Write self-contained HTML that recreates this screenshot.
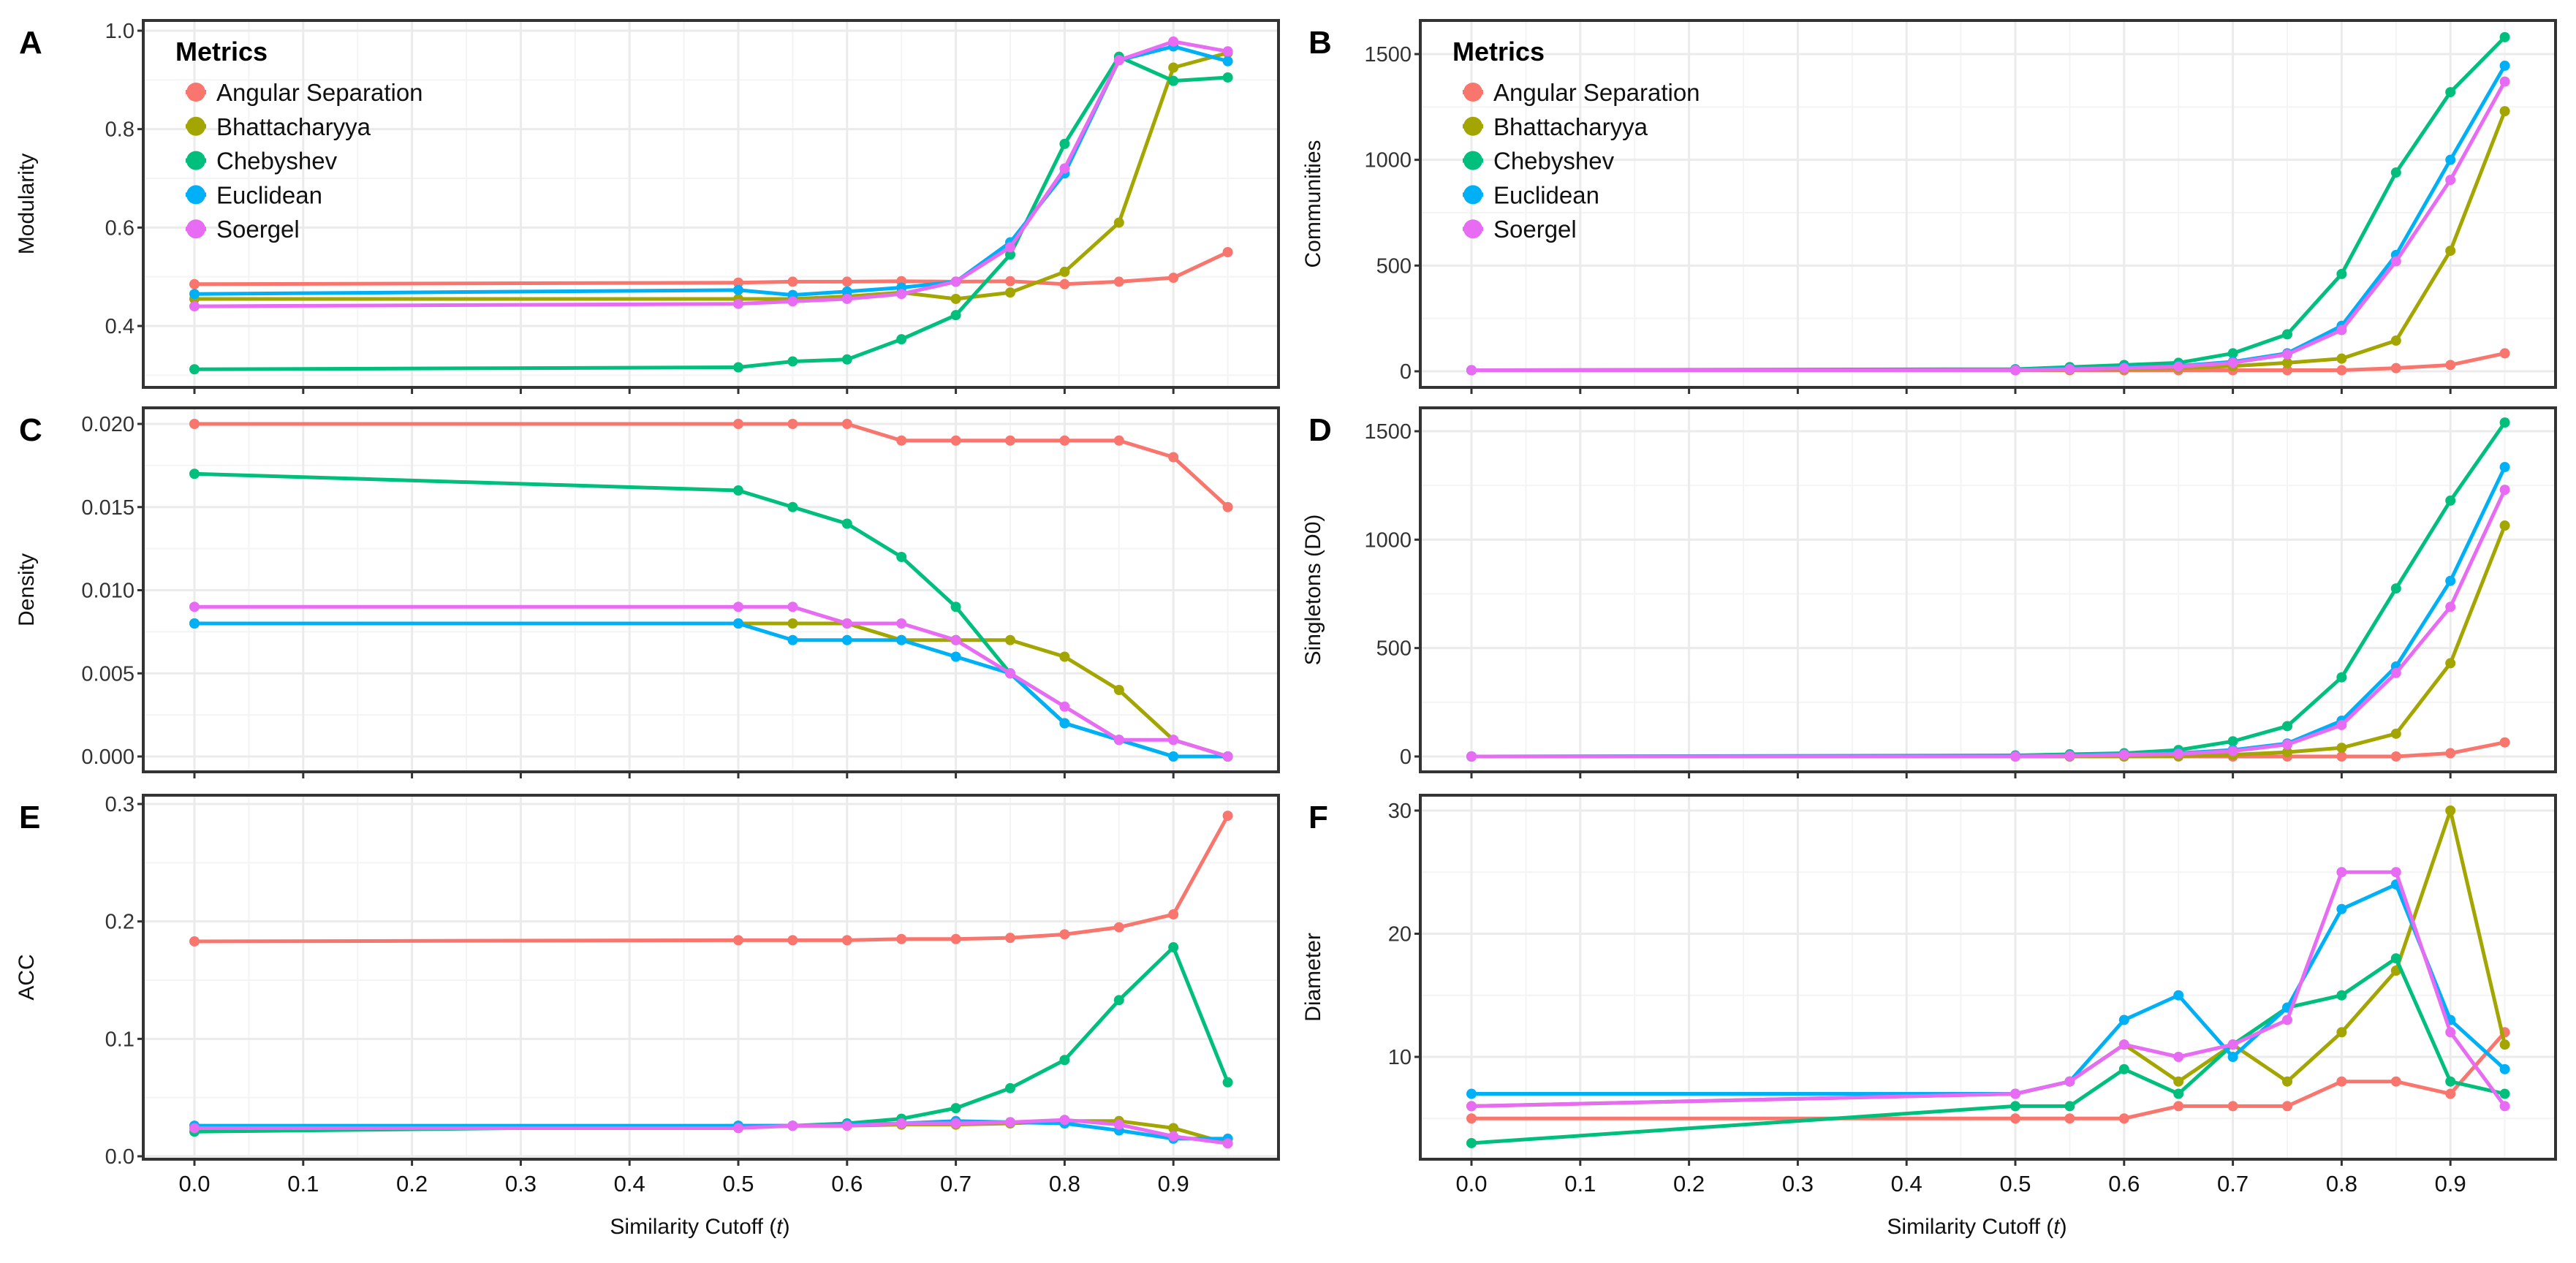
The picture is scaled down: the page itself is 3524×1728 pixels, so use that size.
<!DOCTYPE html>
<html><head><meta charset="utf-8"><style>
html,body{margin:0;padding:0;background:#fff;}
svg{display:block;font-family:"Liberation Sans",sans-serif;}
</style></head><body>
<svg id="chart" width="3524" height="1728" viewBox="0 0 3524 1728" xmlns="http://www.w3.org/2000/svg"></svg>
<script>
const cutoffs = [0,0.5,0.55,0.6,0.65,0.7,0.75,0.8,0.85,0.9,0.95];
const seriesNames = ["Angular Separation","Bhattacharyya","Chebyshev","Euclidean","Soergel"];
const colors = ["#F8766D","#A3A500","#00BF7D","#00B0F6","#E76BF3"];
const xTicks = [0,0.1,0.2,0.3,0.4,0.5,0.6,0.7,0.8,0.9];
const xTickLabels = ["0.0","0.1","0.2","0.3","0.4","0.5","0.6","0.7","0.8","0.9"];

const modAng = [0.485,0.488,0.49,0.49,0.491,0.49,0.491,0.485,0.49,0.498,0.55];
const modBha = [0.455,0.455,0.455,0.46,0.468,0.455,0.468,0.51,0.61,0.925,0.955];
const modChe = [0.312,0.316,0.328,0.332,0.373,0.422,0.545,0.77,0.947,0.898,0.905];
const modEuc = [0.465,0.473,0.463,0.47,0.478,0.49,0.57,0.71,0.94,0.968,0.938];
const modSoe = [0.44,0.445,0.45,0.455,0.465,0.49,0.56,0.72,0.94,0.978,0.958];

const comAng = [5,5,5,5,5,5,5,5,15,30,85];
const comBha = [5,5,8,10,15,25,40,60,145,570,1230];
const comChe = [5,10,20,30,40,85,175,460,940,1320,1580];
const comEuc = [5,8,12,18,25,45,85,215,550,1000,1445];
const comSoe = [5,5,10,15,22,40,80,195,520,905,1370];

const denAng = [0.020,0.020,0.020,0.020,0.019,0.019,0.019,0.019,0.019,0.018,0.015];
const denBha = [0.008,0.008,0.008,0.008,0.007,0.007,0.007,0.006,0.004,0.001,0];
const denChe = [0.017,0.016,0.015,0.014,0.012,0.009,0.005,0.002,0.001,0,0];
const denEuc = [0.008,0.008,0.007,0.007,0.007,0.006,0.005,0.002,0.001,0,0];
const denSoe = [0.009,0.009,0.009,0.008,0.008,0.007,0.005,0.003,0.001,0.001,0];

const sinAng = [0,0,0,0,0,0,0,0,0,15,65];
const sinBha = [0,0,0,0,2,8,20,40,105,430,1065];
const sinChe = [0,5,10,15,30,70,140,365,775,1180,1540];
const sinEuc = [0,2,5,10,15,30,60,165,415,810,1335];
const sinSoe = [0,0,3,8,12,25,55,145,385,690,1230];

const accAng = [0.183,0.184,0.184,0.184,0.185,0.185,0.186,0.189,0.195,0.206,0.290];
const accBha = [0.026,0.026,0.026,0.026,0.027,0.027,0.028,0.030,0.030,0.024,0.011];
const accChe = [0.021,0.026,0.026,0.028,0.032,0.041,0.058,0.082,0.133,0.178,0.063];
const accEuc = [0.026,0.026,0.026,0.027,0.028,0.030,0.029,0.028,0.022,0.015,0.015];
const accSoe = [0.024,0.024,0.026,0.026,0.028,0.028,0.029,0.031,0.027,0.017,0.011];

const diaAng = [5,5,5,5,6,6,6,8,8,7,12];
const diaBha = [6,7,8,11,8,11,8,12,17,30,11];
const diaChe = [3,6,6,9,7,11,14,15,18,8,7];
const diaEuc = [7,7,8,13,15,10,14,22,24,13,9];
const diaSoe = [6,7,8,11,10,11,13,25,25,12,6];

const modTicks = [0.4,0.6,0.8,1.0], modTickLabels = ["0.4","0.6","0.8","1.0"];
const comTicks = [0,500,1000,1500], comTickLabels = ["0","500","1000","1500"];
const denTicks = [0,0.005,0.01,0.015,0.02], denTickLabels = ["0.000","0.005","0.010","0.015","0.020"];
const sinTicks = [0,500,1000,1500], sinTickLabels = ["0","500","1000","1500"];
const accTicks = [0,0.1,0.2,0.3], accTickLabels = ["0.0","0.1","0.2","0.3"];
const diaTicks = [10,20,30], diaTickLabels = ["10","20","30"];

const NS = "http://www.w3.org/2000/svg";
const svg = document.getElementById("chart");
function mk(tag, attrs, parent){
  const e = document.createElementNS(NS, tag);
  for (const k in attrs) e.setAttribute(k, attrs[k]);
  (parent||svg).appendChild(e);
  return e;
}

const panels = [
 {id:"a",letter:"A",title:"Modularity",L:196,R:1749,T:28,B:530,x0:266,v0:0.4,p0:446,v1:1.0,p1:42,ticks:modTicks,labels:modTickLabels,series:[modAng,modBha,modChe,modEuc,modSoe],legend:true,xlab:false},
 {id:"b",letter:"B",title:"Communities",L:1943,R:3496,T:28,B:530,x0:2013,v0:0,p0:508,v1:1500,p1:74,ticks:comTicks,labels:comTickLabels,series:[comAng,comBha,comChe,comEuc,comSoe],legend:true,xlab:false},
 {id:"c",letter:"C",title:"Density",L:196,R:1749,T:558,B:1056,x0:266,v0:0,p0:1035,v1:0.02,p1:580,ticks:denTicks,labels:denTickLabels,series:[denAng,denBha,denChe,denEuc,denSoe],legend:false,xlab:false},
 {id:"d",letter:"D",title:"Singletons (D0)",L:1943,R:3496,T:558,B:1056,x0:2013,v0:0,p0:1035,v1:1500,p1:590,ticks:sinTicks,labels:sinTickLabels,series:[sinAng,sinBha,sinChe,sinEuc,sinSoe],legend:false,xlab:false},
 {id:"e",letter:"E",title:"ACC",L:196,R:1749,T:1088,B:1586,x0:266,v0:0,p0:1582,v1:0.3,p1:1100,ticks:accTicks,labels:accTickLabels,series:[accAng,accBha,accChe,accEuc,accSoe],legend:false,xlab:true},
 {id:"f",letter:"F",title:"Diameter",L:1943,R:3496,T:1088,B:1586,x0:2013,v0:10,p0:1446,v1:30,p1:1109,ticks:diaTicks,labels:diaTickLabels,series:[diaAng,diaBha,diaChe,diaEuc,diaSoe],legend:false,xlab:true}
];
const XSTEP = 1488;

panels.forEach(p => {
  const g = mk("g", {});
  
  
  const right = p.L > 1000;
  const xs = v => p.x0 + v*XSTEP;
  const ys = v => p.p0 + (v - p.v0)/(p.v1 - p.v0)*(p.p1 - p.p0);
  const step = p.ticks[1]-p.ticks[0];
  for (let i=0;i<p.ticks.length+1;i++){
    const v = p.ticks[0] + (i-0.5)*step;
    const y = ys(v);
    if (y>p.T && y<p.B) mk("line",{x1:p.L,x2:p.R,y1:y,y2:y,stroke:"#f4f4f4","stroke-width":2},g);
  }
  for (let i=0;i<xTicks.length;i++){
    const x = xs(xTicks[i]+0.05);
    if (x<p.R) mk("line",{x1:x,x2:x,y1:p.T,y2:p.B,stroke:"#f4f4f4","stroke-width":2},g);
  }
  p.ticks.forEach(v=>{ const y=ys(v); mk("line",{x1:p.L,x2:p.R,y1:y,y2:y,stroke:"#ebebeb","stroke-width":3},g); });
  xTicks.forEach(v=>{ const x=xs(v); mk("line",{x1:x,x2:x,y1:p.T,y2:p.B,stroke:"#ebebeb","stroke-width":3},g); });
  const fr = mk("rect",{x:p.L,y:p.T,width:p.R-p.L,height:p.B-p.T,fill:"none",stroke:"#333","stroke-width":4},g);
  
  
  p.ticks.forEach((v,i)=>{
    const y=ys(v);
    mk("line",{x1:p.L-8,x2:p.L,y1:y,y2:y,stroke:"#333","stroke-width":3},g);
    const t = mk("text",{x:p.L-12,y:y+10,"text-anchor":"end","font-size":29,fill:"#333"},g);
    t.textContent = p.labels[i];
    
    
  });
  xTicks.forEach((v,i)=>{
    const x=xs(v);
    mk("line",{x1:x,x2:x,y1:p.B,y2:p.B+9,stroke:"#333","stroke-width":3},g);
    if (p.xlab){
      const t = mk("text",{x:x,y:p.B+44,"text-anchor":"middle","font-size":31,fill:"#111"},g);
      t.textContent = xTickLabels[i];
      
      
    }
  });
  if (p.xlab){
    const t = mk("text",{x:(p.L+p.R)/2-15,y:1688,"text-anchor":"middle","font-size":30,fill:"#111"},g);
    t.innerHTML = 'Similarity Cutoff (<tspan font-style="italic">t</tspan>)';
    
    
  }
  const cy = (p.T+p.B)/2;
  const tx = right ? 1806 : 46;
  const yt = mk("text",{x:0,y:0,transform:`translate(${tx},${cy}) rotate(-90)`,"text-anchor":"middle","font-size":30,fill:"#111"},g);
  yt.textContent = p.title;
  
  
  const lt = mk("text",{x:right ? 1790 : 26,y:p.T+45,"font-size":44,"font-weight":"bold",fill:"#000"},g);
  lt.textContent = p.letter;
  
  
  p.series.forEach((vals,si)=>{
    const pts = vals.map((v,i)=>xs(cutoffs[i])+","+ys(v)).join(" ");
    const pl = mk("polyline",{points:pts,fill:"none",stroke:colors[si],"stroke-width":5,"stroke-linejoin":"round"},g);
    
    
    vals.forEach((v,i)=>{
      const c = mk("circle",{cx:xs(cutoffs[i]),cy:ys(v),r:7,fill:colors[si]},g);
      
      
    });
  });
  if (p.legend){
    const lg = mk("g",{},g);
    
    
    const lx = p.L + 44;
    const h = mk("text",{x:lx,y:83,"font-size":36,"font-weight":"bold",fill:"#000"},lg);
    h.textContent = "Metrics";
    
    
    seriesNames.forEach((n,si)=>{
      const y = 126 + si*46.8;
      const e = mk("g",{},lg);
      
      
      mk("line",{x1:lx+14,x2:lx+42,y1:y,y2:y,stroke:colors[si],"stroke-width":6},e);
      mk("circle",{cx:lx+28,cy:y,r:13,fill:colors[si]},e);
      const t = mk("text",{x:lx+56,y:y+12,"font-size":33,fill:"#111"},e);
      t.textContent = n;
    });
  }
});
</script>
</body></html>
